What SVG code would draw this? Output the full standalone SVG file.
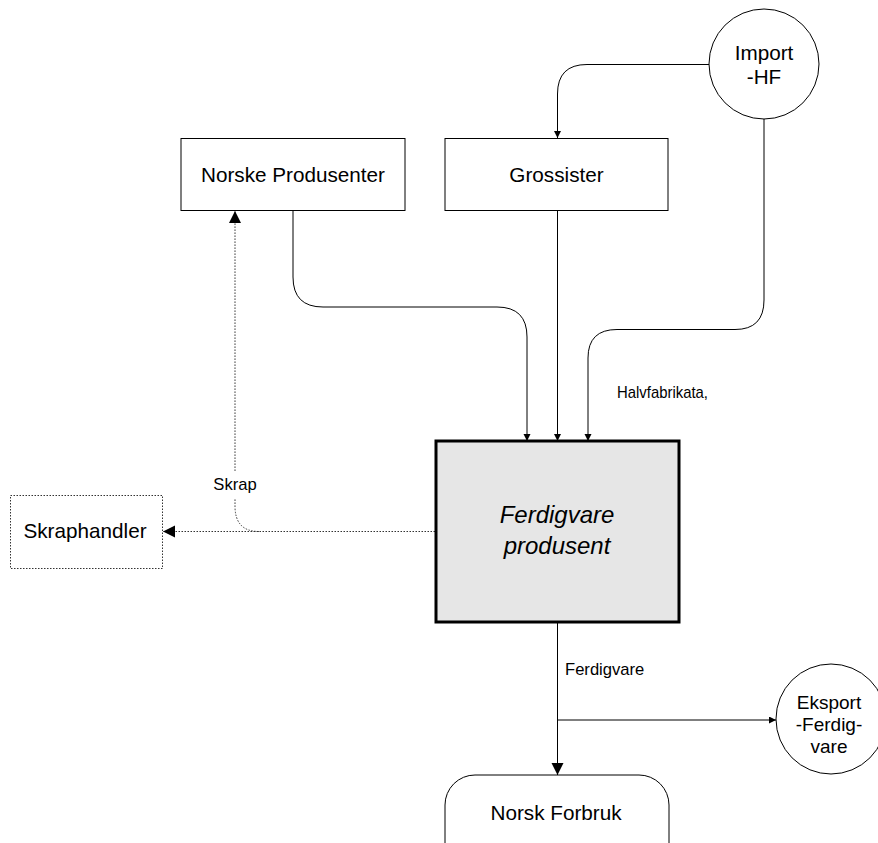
<svg xmlns="http://www.w3.org/2000/svg" width="878" height="843" viewBox="0 0 878 843">
<style>
  .node { fill: #ffffff; stroke: #000000; stroke-width: 1; }
  .lbl { font-family: "Liberation Sans", Arial, sans-serif; font-size: 20.7px; fill: #000000; text-anchor: middle; }
  .small { font-family: "Liberation Sans", Arial, sans-serif; font-size: 16.6px; fill: #000000; }
  .conn { fill: none; stroke: #000000; stroke-width: 1; }
  .dot { fill: none; stroke: #333333; stroke-width: 1; stroke-dasharray: 1.5 1.5; }
</style>
<defs>
  <marker id="arrS" markerUnits="userSpaceOnUse" markerWidth="8" markerHeight="8" refX="7" refY="3.5" orient="auto">
    <path d="M0,0 L7,3.5 L0,7 z" fill="#000000"/>
  </marker>
  <marker id="arrL" markerUnits="userSpaceOnUse" markerWidth="13" markerHeight="13" refX="12" refY="6" orient="auto">
    <path d="M0,0 L12,6 L0,12 z" fill="#000000"/>
  </marker>
</defs>
<rect x="0" y="0" width="878" height="843" fill="#ffffff"/>

<g id="connectors">
  <path class="conn" d="M709,64.5 H587 Q557.5,64.5 557.5,94 V138" marker-end="url(#arrS)"/>
  <path class="conn" d="M764,119 V300 Q764,329.5 735,329.5 H617 Q588,329.5 588,358 V441" marker-end="url(#arrS)"/>
  <path class="conn" d="M293,211 V277 Q293,307 323,307 H497 Q527,307 527,337 V441" marker-end="url(#arrS)"/>
  <path class="conn" d="M557.5,211 V441" marker-end="url(#arrS)"/>
  <path class="conn" d="M557.5,622 V775" marker-end="url(#arrL)"/>
  <path class="conn" d="M557.5,720 H776" marker-end="url(#arrS)"/>
  <path class="dot" d="M435,531.5 H163" marker-end="url(#arrL)"/>
  <path class="dot" d="M259,531.5 Q235,531.5 235,506 V211" marker-end="url(#arrL)"/>
  <rect x="212" y="472" width="46" height="26" fill="#ffffff"/>
  <text class="small" x="235" y="490" text-anchor="middle">Skrap</text>
  <text class="small" x="617" y="398" textLength="91" lengthAdjust="spacingAndGlyphs">Halvfabrikata,</text>
  <text class="small" x="565" y="675">Ferdigvare</text>
</g>

<g id="import-hf">
  <circle class="node" cx="764" cy="64" r="55"/>
  <text class="lbl" x="764" y="59.5">Import</text>
  <text class="lbl" x="764" y="84">-HF</text>
</g>

<g id="norske-produsenter">
  <rect class="node" x="181" y="138.5" width="224" height="72"/>
  <text class="lbl" x="293" y="182">Norske Produsenter</text>
</g>

<g id="grossister">
  <rect class="node" x="445" y="138.5" width="223" height="72"/>
  <text class="lbl" x="556.5" y="182">Grossister</text>
</g>

<g id="ferdigvare-produsent">
  <rect x="436" y="441" width="243" height="181" fill="#e6e6e6" stroke="#000000" stroke-width="3"/>
  <text class="lbl" x="557" y="523" style="font-size:24px;font-style:italic">Ferdigvare</text>
  <text class="lbl" x="557" y="553.5" style="font-size:24px;font-style:italic">produsent</text>
</g>

<g id="skraphandler">
  <rect x="10.5" y="495.5" width="152" height="73" fill="#ffffff" stroke="#333333" stroke-width="1" stroke-dasharray="1.5 1.5"/>
  <text class="lbl" x="85" y="538">Skraphandler</text>
</g>

<g id="eksport-ferdigvare">
  <circle class="node" cx="831" cy="719" r="55"/>
  <text class="lbl" x="829" y="708.5" style="font-size:19px">Eksport</text>
  <text class="lbl" x="829" y="730.5" style="font-size:19px">-Ferdig-</text>
  <text class="lbl" x="829" y="752.5" style="font-size:19px">vare</text>
</g>

<g id="norsk-forbruk">
  <rect class="node" x="445" y="775" width="224" height="100" rx="30" ry="30"/>
  <text class="lbl" x="556" y="819.5">Norsk Forbruk</text>
</g>
</svg>
